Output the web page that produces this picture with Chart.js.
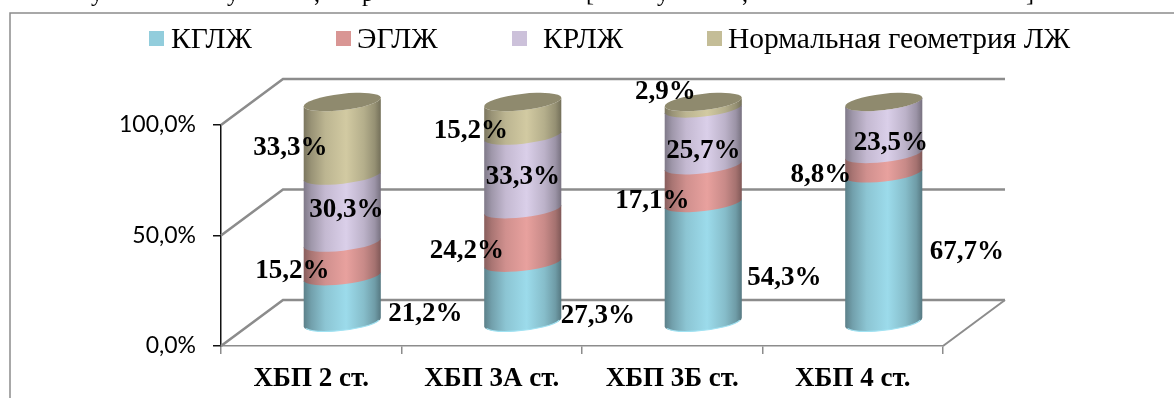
<!DOCTYPE html>
<html lang="ru">
<head>
<meta charset="utf-8">
<title>Геометрия ЛЖ по стадиям ХБП</title>
<style>html,body{margin:0;padding:0;background:#fff}canvas{display:block}</style>
<script src="https://cdn.jsdelivr.net/npm/chart.js@4"></script>
</head>
<body>
<canvas id="chart" width="1174" height="398"></canvas>
<script>
// Chart data: share of each left-ventricle geometry type per CKD stage, %
const categories = ['ХБП 2 ст.', 'ХБП 3А ст.', 'ХБП 3Б ст.', 'ХБП 4 ст.'];
const seriesNames = ['КГЛЖ', 'ЭГЛЖ', 'КРЛЖ', 'Нормальная геометрия ЛЖ'];
const kglz = [21.2, 27.3, 54.3, 67.7];
const eglz = [15.2, 24.2, 17.1, 8.8];
const krlz = [30.3, 33.3, 25.7, 23.5];
const normal = [33.3, 15.2, 2.9, 0];
const seriesColors = ['#92cddc', '#d99694', '#ccc1da', '#c4bd97'];

// Hand placement of the value labels around each cylinder segment: [dx, dy] from its centre
const labelOffsets = [
  [[83, 15], [75, 24], [81, 15], [83, 4]],
  [[-50, 12], [-56, 15], [-51, 17], [-63, 11]],
  [[4, 1], [0, 5], [0, 14], [7, 15]],
  [[-52, 9], [-52, 12], [-38, -13], null]
];

// Legend swatch and text positions along the top row
const legendSwatchX = [149, 336, 512, 707];
const legendTextX = [171, 357, 543, 728];

// Lower edge of the clipped caption line above the chart frame
const captionGlyphs = [['у', 97], ['у', 233], [',', 317], ['р', 368], ['[', 590], ['у', 663], [',', 745], [']', 1030]];

const DEPTH_X = 62, DEPTH_Y = -46;          // oblique offset of the back wall
const BAR_SHIFT_X = 31, BAR_SHIFT_Y = -23;  // cylinders stand mid-way on the floor
const TILT = -0.115, RY_RATIO = 0.21;
const GRID = '#8c8c8c';
const SERIF = '"Liberation Serif", "Times New Roman", serif';

function shade(hex, k) {
  const n = parseInt(hex.slice(1), 16);
  const c = [n >> 16 & 255, n >> 8 & 255, n & 255].map(v => Math.min(255, Math.round(v * k)));
  return `rgb(${c[0]},${c[1]},${c[2]})`;
}

// Bar element drawn as one segment of an upright cylinder
class CylinderElement extends Chart.BarElement {
  static id = 'cylinder';
  static defaults = Chart.BarElement.defaults;
  draw(ctx) {
    const { x, y, base, width } = this.getProps(['x', 'y', 'base', 'width']);
    const color = this.options.backgroundColor;
    const index = this.seriesIndex;
    const cx = x + BAR_SHIFT_X;
    const rx = width / 2;
    const ry = rx * RY_RATIO;
    const top = y + BAR_SHIFT_Y;
    const bottom = base + BAR_SHIFT_Y + (index > 0 ? 1 : 0);

    const grad = ctx.createLinearGradient(cx - rx, 0, cx + rx, 0);
    [[0, 0.62], [0.1, 0.78], [0.28, 0.96], [0.55, 1.07], [0.78, 0.92], [0.92, 0.76], [1, 0.58]]
      .forEach(([p, k]) => grad.addColorStop(p, shade(color, k)));

    ctx.save();
    ctx.beginPath();
    ctx.ellipse(cx, top, rx, ry, TILT, 0, Math.PI, false);
    ctx.ellipse(cx, bottom, rx, ry, TILT, Math.PI, 0, true);
    ctx.closePath();
    ctx.fillStyle = grad;
    ctx.fill();
    if (index === 0) {
      // light rim along the front of the base
      ctx.beginPath();
      ctx.ellipse(cx, bottom, rx - 1, ry, TILT, 0.25, Math.PI - 0.25, false);
      ctx.strokeStyle = shade(color, 1.1);
      ctx.lineWidth = 1.2;
      ctx.stroke();
    }
    if (index === seriesNames.length - 1) {
      ctx.beginPath();
      ctx.ellipse(cx, top, rx, ry, TILT, 0, Math.PI * 2);
      ctx.fillStyle = shade(color, 0.73);
      ctx.fill();
    }
    ctx.restore();
  }
}

class CylinderController extends Chart.BarController {
  static id = 'cylinder';
  static defaults = { ...Chart.BarController.defaults, dataElementType: 'cylinder' };
  updateElements(rects, start, count, mode) {
    super.updateElements(rects, start, count, mode);
    rects.forEach(r => { r.seriesIndex = this.index; });
  }
}
Chart.register(CylinderController, CylinderElement);

// Outer frame and the caption remnant above it
const framePlugin = {
  id: 'frame',
  beforeDraw(chart) {
    const { ctx, width, height } = chart;
    ctx.save();
    ctx.strokeStyle = GRID;
    ctx.lineWidth = 1.5;
    ctx.beginPath();
    ctx.moveTo(10, height);
    ctx.lineTo(10, 13);
    ctx.lineTo(width, 13);
    ctx.stroke();
    ctx.fillStyle = '#000';
    ctx.font = '24px ' + SERIF;
    ctx.textAlign = 'center';
    ctx.textBaseline = 'alphabetic';
    captionGlyphs.forEach(([g, x]) => ctx.fillText(g, x, 1));
    ctx.restore();
  }
};

// Back wall and floor of the oblique plot box, following the y scale ticks
const wallPlugin = {
  id: 'wall',
  beforeDatasetsDraw(chart) {
    const { ctx, chartArea: a, scales: { y } } = chart;
    ctx.save();
    ctx.strokeStyle = GRID;
    ctx.lineJoin = 'miter';
    y.ticks.forEach(t => {
      const py = y.getPixelForValue(t.value);
      ctx.lineWidth = 2.6;
      ctx.beginPath();
      ctx.moveTo(a.left, py);
      ctx.lineTo(a.left + DEPTH_X, py + DEPTH_Y);
      ctx.lineTo(a.right + DEPTH_X, py + DEPTH_Y);
      ctx.stroke();
    });
    const floor = y.getPixelForValue(0);
    ctx.lineWidth = 2;
    ctx.beginPath();
    ctx.moveTo(a.right, floor);
    ctx.lineTo(a.right + DEPTH_X, floor + DEPTH_Y);
    ctx.stroke();
    ctx.restore();
  }
};

// Value labels with a decimal comma
const valueLabelPlugin = {
  id: 'valueLabels',
  afterDatasetsDraw(chart) {
    const { ctx } = chart;
    ctx.save();
    ctx.font = 'bold 27px ' + SERIF;
    ctx.fillStyle = '#000';
    ctx.textAlign = 'center';
    ctx.textBaseline = 'middle';
    chart.data.datasets.forEach((ds, i) => {
      chart.getDatasetMeta(i).data.forEach((el, j) => {
        const off = labelOffsets[i][j];
        if (!off) return;
        const { x, y, base } = el.getProps(['x', 'y', 'base']);
        const text = ds.data[j].toFixed(1).replace('.', ',') + '%';
        ctx.fillText(text, x + BAR_SHIFT_X + off[0], (y + base) / 2 + BAR_SHIFT_Y + off[1]);
      });
    });
    ctx.restore();
  }
};

// Legend row with its own spacing
const legendPlugin = {
  id: 'legendRow',
  afterDraw(chart) {
    const { ctx } = chart;
    ctx.save();
    ctx.font = '29.5px ' + SERIF;
    ctx.textBaseline = 'alphabetic';
    chart.data.datasets.forEach((ds, i) => {
      ctx.fillStyle = ds.backgroundColor;
      ctx.fillRect(legendSwatchX[i], 31, 15, 15);
      ctx.fillStyle = '#000';
      ctx.fillText(ds.label, legendTextX[i], 48);
    });
    ctx.restore();
  }
};

const valuesBySeries = [kglz, eglz, krlz, normal];

new Chart(document.getElementById('chart'), {
  type: 'cylinder',
  data: {
    labels: categories,
    datasets: seriesNames.map((name, i) => ({
      label: name,
      data: valuesBySeries[i],
      backgroundColor: seriesColors[i],
      barPercentage: 0.43,
      categoryPercentage: 1,
      clip: false
    }))
  },
  plugins: [framePlugin, wallPlugin, valueLabelPlugin, legendPlugin],
  options: {
    responsive: false,
    animation: false,
    layout: { padding: { left: 0, right: 231, top: 125, bottom: 0 } },
    plugins: { legend: { display: false }, tooltip: { enabled: false } },
    scales: {
      x: {
        stacked: true,
        afterFit: s => { s.height = 52; },
        border: { color: GRID, width: 1.5 },
        grid: { drawOnChartArea: false, color: GRID, tickLength: 8, lineWidth: 1.5 },
        ticks: {
          color: '#000', padding: 9, maxRotation: 0,
          font: { family: SERIF, size: 27, weight: 'bold' }
        }
      },
      y: {
        stacked: true,
        min: 0,
        max: 100,
        afterFit: s => { s.width = 221; },
        border: { color: '#111', width: 1.5 },
        grid: { drawOnChartArea: false, color: '#111', tickLength: 8, lineWidth: 1.5 },
        ticks: {
          stepSize: 50, color: '#000', padding: 17,
          font: { family: 'Lato', size: 23 },
          callback: v => v.toFixed(1).replace('.', ',') + '%'
        }
      }
    }
  }
});
</script>
</body>
</html>
